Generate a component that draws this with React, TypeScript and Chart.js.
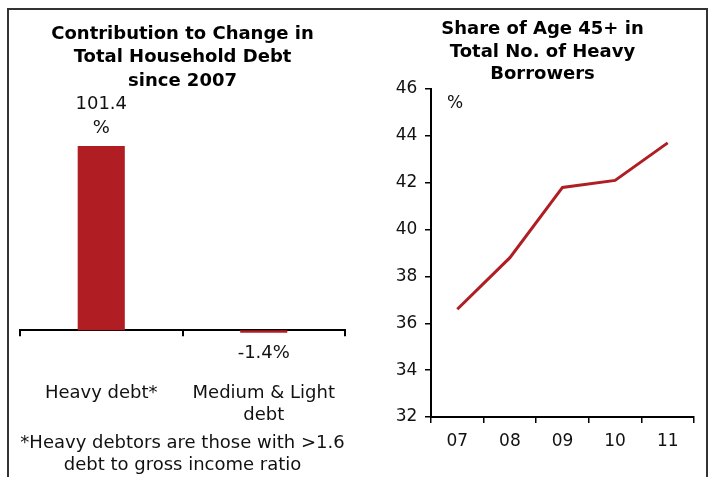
import React, { useEffect, useRef } from "react";
import { Chart, registerables } from "chart.js";

Chart.register(...registerables);

// ---------- Data ----------
const debtCategories = [["Heavy debt*"], ["Medium & Light", "debt"]];
const debtContribution = [101.4, -1.4];
const debtValueLabels = [["101.4", "%"], ["-1.4%"]];
const leftTitle = ["Contribution to Change in", "Total Household Debt", "since 2007"];
const footnote = ["*Heavy debtors are those with >1.6", "debt to gross income ratio"];

const years = ["07", "08", "09", "10", "11"];
const age45Share = [36.6, 38.8, 41.8, 42.1, 43.7];
const rightTitle = ["Share of Age 45+ in", "Total No. of Heavy", "Borrowers"];
const yUnit = "%";
const yMin = 32;
const yMax = 46;
const yStep = 2;

const RED = "#B01E24";
const FONT = "'DejaVu Sans', Verdana, sans-serif";

const valueLabelPlugin = {
  id: "valueLabels",
  afterDatasetsDraw(chart: any) {
    const ctx = chart.ctx;
    const meta = chart.getDatasetMeta(0);
    ctx.save();
    ctx.font = `18px ${FONT}`;
    ctx.fillStyle = "#111";
    ctx.textAlign = "center";
    ctx.textBaseline = "middle";
    meta.data.forEach((el: any, i: number) => {
      const lines = debtValueLabels[i];
      const v = debtContribution[i];
      if (v >= 0) {
        const last = el.y - 17.7;
        lines.forEach((t, k) => {
          ctx.fillText(t, el.x, last - (lines.length - 1 - k) * 24.3);
        });
      } else {
        lines.forEach((t, k) => {
          ctx.fillText(t, el.x, el.y + 20.3 + k * 24.3);
        });
      }
    });
    ctx.restore();
  },
};

const footnotePlugin = {
  id: "footnote",
  afterDraw(chart: any) {
    const ctx = chart.ctx;
    const pb = chart.options.layout.padding.bottom;
    const cx = (chart.chartArea.left + chart.chartArea.right) / 2;
    ctx.save();
    ctx.font = `18px ${FONT}`;
    ctx.fillStyle = "#111";
    ctx.textAlign = "center";
    ctx.textBaseline = "middle";
    footnote.forEach((t, k) => {
      ctx.fillText(t, cx, chart.height - pb + 2 + 11.2 + k * 22.4);
    });
    ctx.restore();
  },
};

const unitPlugin = {
  id: "unitLabel",
  afterDraw(chart: any) {
    const ctx = chart.ctx;
    ctx.save();
    ctx.font = `17px ${FONT}`;
    ctx.fillStyle = "#111";
    ctx.textAlign = "center";
    ctx.textBaseline = "middle";
    ctx.fillText(yUnit, chart.chartArea.left + 24, chart.chartArea.top + 14.5);
    ctx.restore();
  },
};

function LeftChart() {
  const ref = useRef<HTMLCanvasElement>(null);
  useEffect(() => {
    const chart = new Chart(ref.current!, {
      type: "bar",
      data: {
        labels: debtCategories as any,
        datasets: [
          {
            data: debtContribution,
            backgroundColor: RED,
            borderWidth: 0,
            categoryPercentage: 1,
            barPercentage: 0.29,
            clip: false as any,
          },
        ],
      },
      options: {
        responsive: false,
        animation: false,
        events: [],
        layout: { padding: { left: 12, right: 12, top: 0, bottom: 46.8 } },
        plugins: {
          legend: { display: false },
          tooltip: { enabled: false },
          title: {
            display: true,
            text: leftTitle,
            color: "#000",
            font: { family: FONT, size: 18, weight: "bold", lineHeight: "23.5px" },
            padding: { top: 22.25, bottom: 1.25 },
          },
        },
        scales: {
          x: {
            z: 1,
            grid: {
              drawOnChartArea: false,
              drawTicks: true,
              tickLength: 6,
              color: "#000",
              lineWidth: 2,
              offset: true,
            },
            border: { display: true, color: "#000", width: 2 },
            ticks: {
              color: "#111",
              font: { family: FONT, size: 18, lineHeight: "22px" },
              padding: 46.3,
              maxRotation: 0,
              autoSkip: false,
            },
            afterFit: (s: any) => {
              s.height = 100;
              s.paddingLeft = 0;
              s.paddingRight = 0;
            },
          },
          y: {
            display: false,
            min: 0,
            max: 130,
          },
        },
      },
      plugins: [valueLabelPlugin, footnotePlugin],
    });
    return () => chart.destroy();
  }, []);
  return (
    <canvas
      ref={ref}
      width={349}
      height={477}
      style={{ position: "absolute", left: 8, top: 0 }}
    />
  );
}

function RightChart() {
  const ref = useRef<HTMLCanvasElement>(null);
  useEffect(() => {
    const chart = new Chart(ref.current!, {
      type: "line",
      data: {
        labels: years,
        datasets: [
          {
            data: age45Share,
            borderColor: RED,
            borderWidth: 3,
            pointRadius: 0,
            tension: 0,
            fill: false,
          },
        ],
      },
      options: {
        responsive: false,
        animation: false,
        events: [],
        layout: { padding: { left: 0, right: 13, top: 0, bottom: 0 } },
        plugins: {
          legend: { display: false },
          tooltip: { enabled: false },
          title: {
            display: true,
            text: rightTitle,
            color: "#000",
            font: { family: FONT, size: 18, weight: "bold", lineHeight: "22.5px" },
            padding: { top: 18.25, bottom: 3.25 },
          },
        },
        scales: {
          x: {
            offset: true,
            grid: {
              drawOnChartArea: false,
              drawTicks: true,
              tickLength: 6,
              color: "#000",
              lineWidth: 1.5,
              offset: true,
            },
            border: { display: true, color: "#000", width: 2 },
            ticks: {
              color: "#111",
              font: { family: FONT, size: 17, lineHeight: "20px" },
              padding: 8.3,
              maxRotation: 0,
              autoSkip: false,
            },
            afterFit: (s: any) => {
              s.height = 60;
              s.paddingLeft = 0;
              s.paddingRight = 0;
            },
          },
          y: {
            min: yMin,
            max: yMax,
            grid: {
              drawOnChartArea: false,
              drawTicks: true,
              tickLength: 6,
              color: "#000",
              lineWidth: 1.5,
            },
            border: { display: true, color: "#000", width: 2 },
            ticks: {
              stepSize: yStep,
              color: "#111",
              font: { family: FONT, size: 17 },
              padding: 7.7,
            },
            afterFit: (s: any) => {
              s.width = 40;
            },
          },
        },
      },
      plugins: [unitPlugin],
    });
    return () => chart.destroy();
  }, []);
  return (
    <canvas
      ref={ref}
      width={316}
      height={477}
      style={{ position: "absolute", left: 391, top: 0 }}
    />
  );
}

export default function App() {
  return (
    <div
      style={{
        position: "absolute",
        left: 0,
        top: 0,
        width: 709,
        height: 477,
        overflow: "hidden",
        background: "#fff",
      }}
    >
      <div
        style={{
          position: "absolute",
          left: 7,
          top: 8,
          width: 701,
          height: 480,
          boxSizing: "border-box",
          border: "2px solid #333",
          borderBottom: "none",
        }}
      />
      <LeftChart />
      <RightChart />
    </div>
  );
}
